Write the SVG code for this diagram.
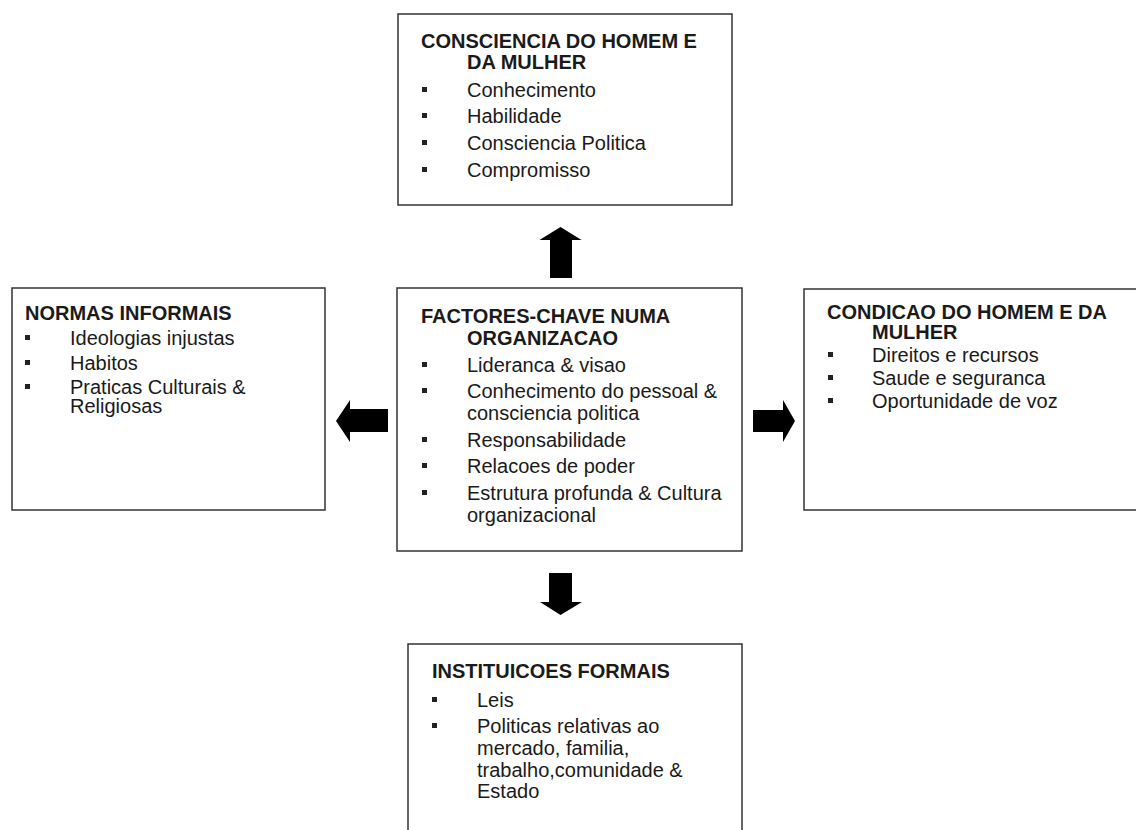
<svg xmlns="http://www.w3.org/2000/svg" width="1136" height="830" viewBox="0 0 1136 830">
<style>
.box{fill:#fff;stroke:#333;stroke-width:1.5}
.t{font-family:"Liberation Sans",Arial,sans-serif;font-size:20px;font-weight:bold;fill:#1a1a1a}
.i{font-family:"Liberation Sans",Arial,sans-serif;font-size:20px;fill:#1a1a1a}
.b{fill:#222}
.arrow{fill:#000}
</style>
<rect width="1136" height="830" fill="#fff"/>
<g id="connectors">
<polygon class="arrow" points="550,278 550,240 539.5,240 560.5,227 581.5,240 572,240 572,278"/>
<polygon class="arrow" points="549,573 572,573 572,602 582,602 560.5,615 540,602 549,602"/>
<polygon class="arrow" points="388,409 350,409 350,400 336,421 350,442 350,432 388,432"/>
<polygon class="arrow" points="753,410 783,410 783,400 795,421 783,442 783,432 753,432"/>
</g>
<g id="node-consciencia">
<rect class="box" x="398" y="14" width="334" height="191"/>
<text class="t" x="421" y="48">CONSCIENCIA DO HOMEM E</text>
<text class="t" x="467" y="69">DA MULHER</text>
<rect class="b" x="422" y="87" width="5" height="5"/><text class="i" x="467" y="97">Conhecimento</text>
<rect class="b" x="422" y="113" width="5" height="5"/><text class="i" x="467" y="123">Habilidade</text>
<rect class="b" x="422" y="140" width="5" height="5"/><text class="i" x="467" y="150">Consciencia Politica</text>
<rect class="b" x="422" y="167" width="5" height="5"/><text class="i" x="467" y="177">Compromisso</text>
</g>
<g id="node-normas">
<rect class="box" x="12" y="288" width="313" height="222"/>
<text class="t" x="25" y="320">NORMAS INFORMAIS</text>
<rect class="b" x="25" y="335" width="5" height="5"/><text class="i" x="70" y="345">Ideologias injustas</text>
<rect class="b" x="25" y="360" width="5" height="5"/><text class="i" x="70" y="370">Habitos</text>
<rect class="b" x="25" y="384" width="5" height="5"/><text class="i" x="70" y="394">Praticas Culturais &amp;</text>
<text class="i" x="70" y="413">Religiosas</text>
</g>
<g id="node-factores">
<rect class="box" x="397" y="288" width="345" height="263"/>
<text class="t" x="421" y="323">FACTORES-CHAVE NUMA</text>
<text class="t" x="467" y="345">ORGANIZACAO</text>
<rect class="b" x="422" y="362" width="5" height="5"/><text class="i" x="467" y="372">Lideranca &amp; visao</text>
<rect class="b" x="422" y="388" width="5" height="5"/><text class="i" x="467" y="398">Conhecimento do pessoal &amp;</text>
<text class="i" x="467" y="420">consciencia politica</text>
<rect class="b" x="422" y="437" width="5" height="5"/><text class="i" x="467" y="447">Responsabilidade</text>
<rect class="b" x="422" y="463" width="5" height="5"/><text class="i" x="467" y="473">Relacoes de poder</text>
<rect class="b" x="422" y="490" width="5" height="5"/><text class="i" x="467" y="500">Estrutura profunda &amp; Cultura</text>
<text class="i" x="467" y="522">organizacional</text>
</g>
<g id="node-condicao">
<rect class="box" x="804" y="289" width="345" height="221"/>
<text class="t" x="827" y="319">CONDICAO DO HOMEM E DA</text>
<text class="t" x="872" y="339">MULHER</text>
<rect class="b" x="828" y="352" width="5" height="5"/><text class="i" x="872" y="362">Direitos e recursos</text>
<rect class="b" x="828" y="375" width="5" height="5"/><text class="i" x="872" y="385">Saude e seguranca</text>
<rect class="b" x="828" y="398" width="5" height="5"/><text class="i" x="872" y="408">Oportunidade de voz</text>
</g>
<g id="node-instituicoes">
<rect class="box" x="408" y="644" width="334" height="200"/>
<text class="t" x="432" y="678">INSTITUICOES FORMAIS</text>
<rect class="b" x="432" y="697" width="5" height="5"/><text class="i" x="477" y="707">Leis</text>
<rect class="b" x="432" y="723" width="5" height="5"/><text class="i" x="477" y="733">Politicas relativas ao</text>
<text class="i" x="477" y="755">mercado, familia,</text>
<text class="i" x="477" y="777">trabalho,comunidade &amp;</text>
<text class="i" x="477" y="798">Estado</text>
</g>
</svg>
